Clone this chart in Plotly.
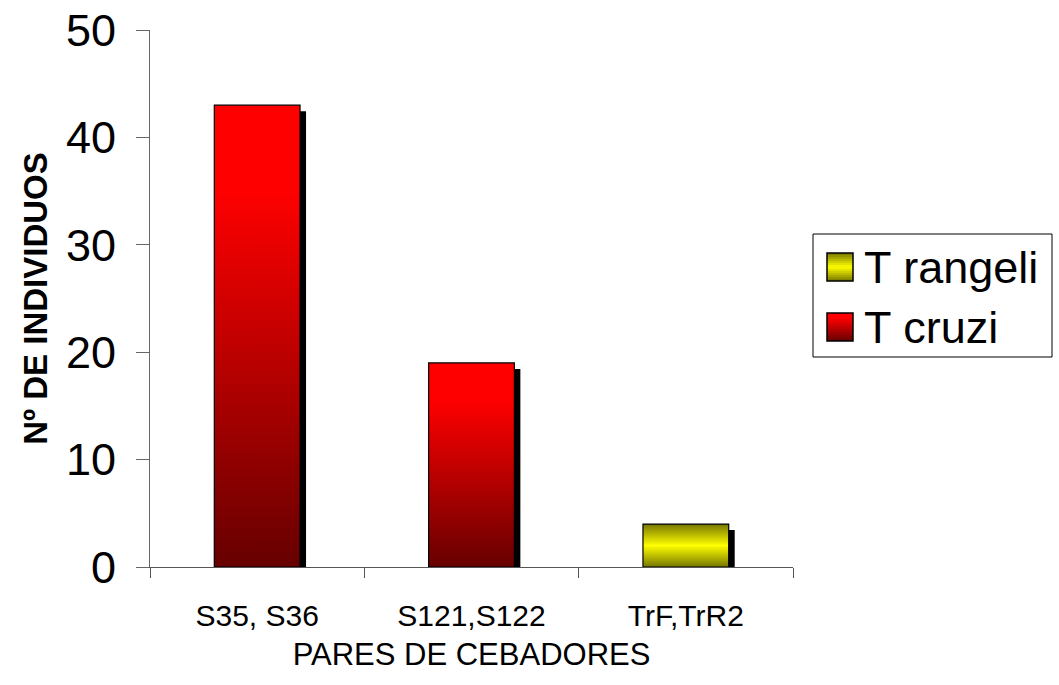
import plotly.graph_objects as go

# ---- data ----
categories = ["S35, S36", "S121,S122", "TrF,TrR2"]
series_names = ["T rangeli", "T cruzi"]
t_rangeli = [0, 0, 4]
t_cruzi = [43, 19, 0]
y_ticks = [0, 10, 20, 30, 40, 50]

# ---- styling ----
FONT = "Liberation Sans, Arial, sans-serif"
BAR_W = 0.40
SHADOW_DX = 0.028      # shadow offset along x (category units)
SHADOW_DY = 0.56       # shadow offset along y (value units)

gradients = {
    "T cruzi": [[0, "#660000"], [0.82, "#ff0000"], [1, "#ff0000"]],
    "T rangeli": [[0, "#767600"], [0.5, "#ffff00"], [1, "#767600"]],
}
series_values = {"T rangeli": t_rangeli, "T cruzi": t_cruzi}

fig = go.Figure()

for name in series_names:
    vals = series_values[name]
    for i, v in enumerate(vals):
        if not v:
            continue
        x0, x1 = i - BAR_W / 2, i + BAR_W / 2
        # drop shadow behind the bar
        fig.add_trace(go.Scatter(
            x=[x0 + SHADOW_DX, x1 + SHADOW_DX, x1 + SHADOW_DX, x0 + SHADOW_DX, x0 + SHADOW_DX],
            y=[0, 0, v - SHADOW_DY, v - SHADOW_DY, 0],
            mode="lines", fill="toself", fillcolor="#000000",
            line=dict(width=0, color="#000000"),
            hoverinfo="skip", showlegend=False,
        ))
        # gradient-filled bar
        fig.add_trace(go.Scatter(
            x=[x0, x1, x1, x0, x0],
            y=[0, 0, v, v, 0],
            mode="lines", fill="toself",
            fillgradient=dict(type="vertical", colorscale=gradients[name], start=0, stop=v),
            line=dict(width=1.2, color="#000000"),
            name=name, showlegend=False,
            hovertemplate=f"{categories[i]}<br>{name}: {v}<extra></extra>",
        ))

# ---- axes ----
fig.update_xaxes(
    range=[-0.5, 2.5], tickvals=[0, 1, 2], ticktext=categories,
    ticks="", showgrid=False, zeroline=False,
    showline=True, linecolor="#555555", linewidth=1,
    tickfont=dict(family=FONT, size=30, color="#000"),
    ticklabelstandoff=22,
    minor=dict(tickvals=[-0.5, 0.5, 1.5, 2.5], ticks="outside", ticklen=10,
               tickcolor="#555555", tickwidth=1),
    title=dict(text="PARES DE CEBADORES", font=dict(family=FONT, size=31, color="#000"),
               standoff=12),
)
fig.update_yaxes(
    range=[0, 50], tickvals=y_ticks, ticks="outside", ticklen=13,
    tickcolor="#666666", showgrid=False, zeroline=False,
    showline=True, linecolor="#666666", linewidth=1,
    tickfont=dict(family=FONT, size=45, color="#000"),
    ticklabelstandoff=11,
    title=dict(text="<b>Nº DE INDIVIDUOS</b>", font=dict(family=FONT, size=33, color="#000"),
               standoff=8),
)

# ---- legend (drawn by hand for large swatches) ----
W, H = 1059, 685
L, R, T, B = 150, 266, 30, 118
pw, ph = W - L - R, H - T - B


def px(xp):
    return (xp - L) / pw


def py(yp):
    return (H - B - yp) / ph


shapes = [dict(type="rect", xref="paper", yref="paper",
               x0=px(813), x1=px(1052), y0=py(357), y1=py(234),
               line=dict(color="#000000", width=1), fillcolor="white")]
annotations = []

legend_rows = [("T rangeli", 253), ("T cruzi", 313)]
for name, top in legend_rows:
    cs = gradients[name]
    n = 14
    sx0, sx1, sh = 827, 853, 28
    for k in range(n):
        t = 1 - (k + 0.5) / n
        # interpolate the colour scale at t
        for (a, ca), (b, cb) in zip(cs[:-1], cs[1:]):
            if a <= t <= b:
                f = (t - a) / (b - a) if b > a else 0
                c1 = [int(ca[j:j + 2], 16) for j in (1, 3, 5)]
                c2 = [int(cb[j:j + 2], 16) for j in (1, 3, 5)]
                col = "rgb(%d,%d,%d)" % tuple(round(c1[m] + (c2[m] - c1[m]) * f) for m in range(3))
                break
        shapes.append(dict(type="rect", xref="paper", yref="paper",
                           x0=px(sx0), x1=px(sx1),
                           y0=py(top + sh * (k + 1) / n), y1=py(top + sh * k / n),
                           line=dict(width=0), fillcolor=col))
    shapes.append(dict(type="rect", xref="paper", yref="paper",
                       x0=px(sx0), x1=px(sx1), y0=py(top + sh), y1=py(top),
                       line=dict(color="#000000", width=1.5)))
    annotations.append(dict(xref="paper", yref="paper", x=px(862), y=py(top + sh / 2),
                            xanchor="left", yanchor="middle", showarrow=False,
                            text=name, font=dict(family=FONT, size=45, color="#000")))

fig.update_layout(
    width=W, height=H,
    margin=dict(l=L, r=R, t=T, b=B, autoexpand=False),
    plot_bgcolor="white", paper_bgcolor="white",
    shapes=shapes, annotations=annotations,
    showlegend=False,
)

fig.write_html("out.html")
